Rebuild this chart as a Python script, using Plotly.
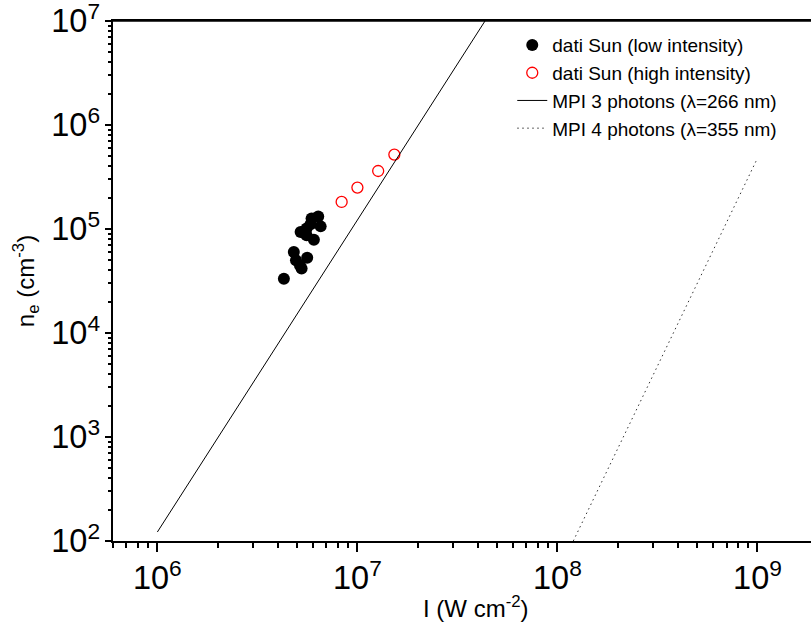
import plotly.graph_objects as go

# low-intensity data (W cm^-2, cm^-3)
I_low = [4.29e6, 5.16e6, 4.93e6, 4.81e6, 5.61e6, 5.26e6, 5.2e6, 5.57e6, 6.06e6,
         5.83e6, 6.37e6, 6.55e6, 5.9e6, 5.57e6]
n_low = [3.33e4, 4.48e4, 5.0e4, 6.0e4, 5.3e4, 4.16e4, 9.35e4, 8.7e4, 7.9e4,
         1.11e5, 1.32e5, 1.06e5, 1.26e5, 1.01e5]

# high-intensity data
I_high = [8.34e6, 1.0e7, 1.27e7, 1.53e7]
n_high = [1.82e5, 2.5e5, 3.61e5, 5.19e5]

# MPI model lines
I_mpi3 = [1.0e6, 5.0e7]
n_mpi3 = [122, 1.525e7]
I_mpi4 = [1.2e8, 1.0e9]
n_mpi4 = [100, 4.8e5]

FONT = "Liberation Sans, Arial, sans-serif"

fig = go.Figure()
fig.add_trace(go.Scatter(x=I_low, y=n_low, mode="markers",
                         name="dati Sun (low intensity)",
                         marker=dict(symbol="circle", size=12, color="black")))
fig.add_trace(go.Scatter(x=I_high, y=n_high, mode="markers",
                         name="dati Sun (high intensity)",
                         marker=dict(symbol="circle-open", size=11, color="red",
                                     line=dict(width=1.3, color="red"))))
fig.add_trace(go.Scatter(x=I_mpi3, y=n_mpi3, mode="lines",
                         name="MPI 3 photons (λ=266 nm)",
                         line=dict(color="black", width=1)))
fig.add_trace(go.Scatter(x=I_mpi4, y=n_mpi4, mode="lines",
                         name="MPI 4 photons (λ=355 nm)",
                         line=dict(color="#333333", width=1, dash="1.5px,3.5px")))

fig.update_layout(
    width=811, height=627,
    margin=dict(l=113, r=0, t=21, b=86, autoexpand=False),
    paper_bgcolor="white", plot_bgcolor="white",
    font=dict(family=FONT, color="black", size=19),
    showlegend=True,
    legend=dict(x=0.572, y=0.99, xanchor="left", yanchor="top",
                bgcolor="rgba(0,0,0,0)", borderwidth=0,
                font=dict(family=FONT, size=19), tracegroupgap=0),
    annotations=[dict(text="I (W cm<sup>-2</sup>)", xref="paper", yref="paper",
                      x=0.52, y=-0.127, xanchor="center", yanchor="middle",
                      showarrow=False, font=dict(family=FONT, size=24))],
    shapes=[dict(type="line", xref="paper", yref="paper", x0=0, x1=1, y0=1, y1=1,
                 line=dict(color="black", width=1.5))],
)

fig.update_xaxes(
    type="log", range=[5.7782, 9.2675], automargin=False,
    showgrid=False, zeroline=False,
    showline=True, linecolor="black", linewidth=1.5, mirror=True,
    ticks="outside", ticklen=9, tickwidth=1.5, tickcolor="black",
    dtick=1, exponentformat="power", ticklabelstandoff=0,
    ticklabeloverflow="allow",
    tickfont=dict(family=FONT, size=26),
    minor=dict(ticks="outside", ticklen=5, tickwidth=1.5, tickcolor="black",
               dtick="D1", showgrid=False),
)
fig.update_yaxes(
    type="log", range=[2, 7], automargin=False,
    showgrid=False, zeroline=False,
    showline=True, linecolor="black", linewidth=1.5, mirror=False,
    ticks="outside", ticklen=6, tickwidth=1.5, tickcolor="black",
    dtick=1, exponentformat="power", ticklabeloverflow="allow",
    tickfont=dict(family=FONT, size=26),
    minor=dict(ticks="outside", ticklen=3, tickwidth=1.5, tickcolor="black",
               dtick="D1", showgrid=False),
    title=dict(text="n<sub>e</sub> (cm<sup>-3</sup>)", font=dict(family=FONT, size=24), standoff=10),
)

fig.write_html("out.html", config={"displayModeBar": False},
               post_script="document.body.style.margin='0';document.body.style.padding='0';")
